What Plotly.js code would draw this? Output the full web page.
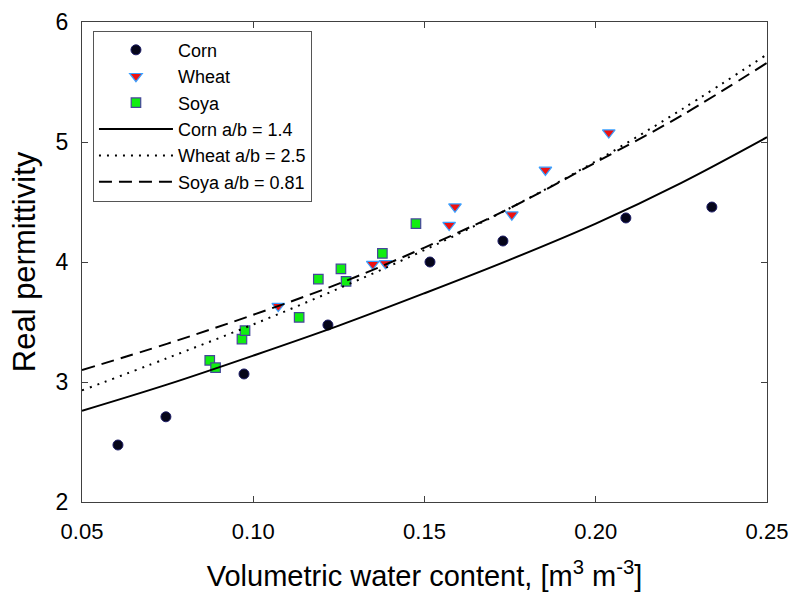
<!DOCTYPE html>
<html>
<head>
<meta charset="utf-8">
<script src="https://cdn.plot.ly/plotly-3.0.1.min.js"></script>
<style>html,body{margin:0;padding:0;background:#fff;}#chart{width:790px;height:593px;}</style>
</head>
<body>
<div id="chart"></div>
<script>
// Measured data points
const cornX = [0.0605, 0.0745, 0.0973, 0.1218, 0.1516, 0.1729, 0.2088, 0.2339];
const cornY = [2.475, 2.71, 3.067, 3.475, 4.0, 4.175, 4.367, 4.458];

const wheatX = [0.1073, 0.1349, 0.1386, 0.1572, 0.1589, 0.1755, 0.1853, 0.2038];
const wheatY = [3.633, 3.983, 3.989, 4.308, 4.461, 4.394, 4.767, 5.078];

const soyaX = [0.0873, 0.0890, 0.0967, 0.0976, 0.1134, 0.1190, 0.1256, 0.1271, 0.1377, 0.1475];
const soyaY = [3.181, 3.119, 3.358, 3.428, 3.539, 3.858, 3.942, 3.839, 4.072, 4.319];

// Fitted curves
const curveX = [0.05, 0.075, 0.10, 0.125, 0.15, 0.175, 0.20, 0.225, 0.25];
const cornFitY  = [2.76, 2.98, 3.22, 3.47, 3.74, 4.02, 4.32, 4.66, 5.04];
const wheatFitY = [2.93, 3.20, 3.48, 3.78, 4.10, 4.45, 4.84, 5.27, 5.73];
const soyaFitY  = [3.10, 3.32, 3.56, 3.82, 4.12, 4.45, 4.83, 5.22, 5.66];

const xTicks = [0.05, 0.10, 0.15, 0.20, 0.25];
const xTickText = ['0.05', '0.10', '0.15', '0.20', '0.25'];
const yTicks = [2, 3, 4, 5, 6];

const FONT = 'Liberation Sans, Arial, sans-serif';

const traces = [
  {x: cornX, y: cornY, mode: 'markers', type: 'scatter', name: 'Corn',
   marker: {symbol: 'circle', size: 10, color: '#05051a', line: {color: '#1c1c66', width: 1}}},
  {x: wheatX, y: wheatY, mode: 'markers', type: 'scatter', name: 'Wheat',
   marker: {symbol: 'triangle-down', size: 11, color: '#ee1111', line: {color: '#3aa0ff', width: 1.2}}},
  {x: soyaX, y: soyaY, mode: 'markers', type: 'scatter', name: 'Soya',
   marker: {symbol: 'square', size: 9.5, color: '#11ee11', line: {color: '#45459a', width: 1.2}}},
  {x: curveX, y: cornFitY, mode: 'lines', type: 'scatter', name: 'Corn a/b = 1.4',
   line: {color: '#000', width: 2, shape: 'spline'}},
  {x: curveX, y: wheatFitY, mode: 'lines', type: 'scatter', name: 'Wheat a/b = 2.5',
   line: {color: '#000', width: 2, dash: '2px,6px', shape: 'spline'}},
  {x: curveX, y: soyaFitY, mode: 'lines', type: 'scatter', name: 'Soya a/b = 0.81',
   line: {color: '#000', width: 2, dash: '13px,7px', shape: 'spline'}}
];

const layout = {
  width: 790, height: 593,
  margin: {l: 82, r: 23, t: 22, b: 91},
  paper_bgcolor: '#fff', plot_bgcolor: '#fff',
  font: {family: FONT, color: '#000'},
  showlegend: true,
  legend: {
    x: 0.016, y: 0.982, xanchor: 'left', yanchor: 'top',
    bgcolor: '#fff', bordercolor: '#555', borderwidth: 1,
    font: {family: FONT, size: 18, color: '#000'},
    itemwidth: 74, tracegroupgap: 0
  },
  xaxis: {
    range: [0.05, 0.25], tickvals: xTicks, ticktext: xTickText,
    ticks: 'inside', ticklen: 6, tickcolor: '#404040',
    showline: true, linecolor: '#404040', linewidth: 1, mirror: 'ticks',
    showgrid: false, zeroline: false,
    tickfont: {family: FONT, size: 22, color: '#000'},
    ticklabelstandoff: 10,
    title: {text: 'Volumetric water content, [m<sup>3</sup> m<sup>-3</sup>]', font: {family: FONT, size: 29, color: '#000'}, standoff: 22}
  },
  yaxis: {
    range: [2, 6], tickvals: yTicks,
    ticks: 'inside', ticklen: 6, tickcolor: '#404040',
    showline: true, linecolor: '#404040', linewidth: 1, mirror: 'ticks',
    showgrid: false, zeroline: false,
    tickfont: {family: FONT, size: 23, color: '#000'},
    ticklabelstandoff: 8,
    title: {text: 'Real permittivity', font: {family: FONT, size: 31, color: '#000'}, standoff: 10}
  }
};

Plotly.newPlot('chart', traces, layout, {displayModeBar: false, staticPlot: true});
</script>
</body>
</html>
